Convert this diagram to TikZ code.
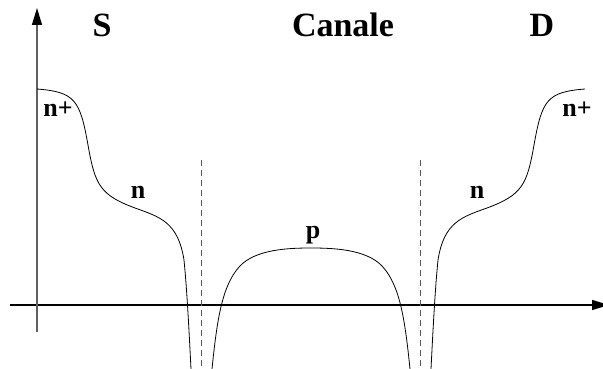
\documentclass[tikz,border=0pt]{standalone}
\usepackage{fontspec}
\setmainfont{Liberation Serif}
\usetikzlibrary{arrows.meta}
\begin{document}
\begin{tikzpicture}[x=1pt,y=-1pt,
  axis/.style={line width=1.2pt,-{Triangle[length=17pt,width=10pt,black]}},
  band/.style={line width=0.8pt,black},
  junction/.style={line width=1.3pt,gray!70!black,dash pattern=on 6pt off 4pt},
  region/.style={font=\bfseries\fontsize{34}{34}\selectfont,anchor=base},
  doping/.style={font=\bfseries\fontsize{26}{26}\selectfont,anchor=base}]
\useasboundingbox (0,0) rectangle (603,369);

% axes
\coordinate (xs) at (10,305);
\coordinate (xe) at (609,305);
\coordinate (ys) at (37,332);
\coordinate (ye) at (37,8);
\draw[axis,black] (xs) -- (xe);
\draw[axis,gray!75!black] (ys) -- (ye);

% junction boundaries
\coordinate (j1a) at (201.7,160);
\coordinate (j1b) at (201.7,369);
\coordinate (j2a) at (420.3,160);
\coordinate (j2b) at (420.3,369);
\draw[junction] (j1a) -- (j1b);
\draw[junction] (j2a) -- (j2b);

% source side: n+ then n, diving at the junction
\draw[band] (37,89) .. controls (75,92) and (80,100) .. (88,145)
  .. controls (95,185) and (100,195) .. (135,208)
  .. controls (160,217) and (178,222) .. (184,260)
  .. controls (187,290) and (189,330) .. (191,369);

% channel: p region
\draw[band] (212,369) .. controls (217,320) and (222,285) .. (240,266)
  .. controls (256,249) and (290,248) .. (311,248)
  .. controls (332,248) and (366,249) .. (382,266)
  .. controls (400,285) and (405,320) .. (410,369);

% drain side: mirror of the source side
\draw[band] (585,89) .. controls (547,92) and (542,100) .. (534,145)
  .. controls (527,185) and (522,195) .. (487,208)
  .. controls (462,217) and (444,222) .. (438,260)
  .. controls (435,290) and (433,330) .. (431,369);

% labels
\node[region] (S) at (102,37) {S};
\node[region] (C) at (343,37) {Canale};
\node[region] (D) at (542,37) {D};
\node[doping] (np1) at (58,117) {n+};
\node[doping] (n1) at (138,198) {n};
\node[doping] (p) at (313,238) {p};
\node[doping] (n2) at (477,198) {n};
\node[doping] (np2) at (577,117) {n+};
\end{tikzpicture}
\end{document}
